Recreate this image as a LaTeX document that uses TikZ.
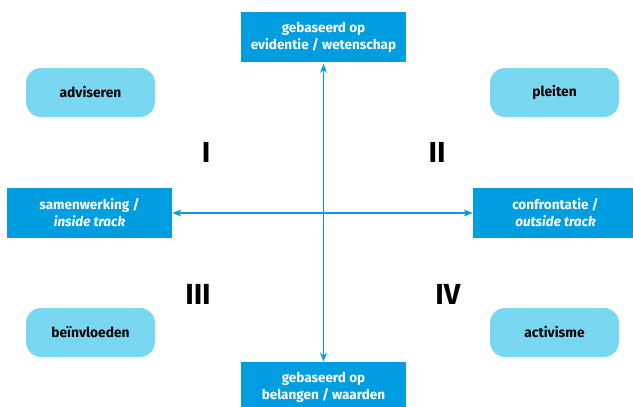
\documentclass[tikz,border=0pt]{standalone}
\usepackage{fontspec}
\setmainfont{Fira Sans}
\usetikzlibrary{arrows.meta}

\definecolor{boxblue}{RGB}{0,158,224}
\definecolor{pillblue}{RGB}{122,215,242}

\begin{document}
\begin{tikzpicture}[x=1pt, y=-1pt, thick,
    main/.style = {fill=boxblue, text=white, minimum width=165pt, minimum height=50pt, inner sep=0pt, align=center, font=\fontsize{13.5}{17}\selectfont\bfseries},
    pill/.style = {fill=pillblue, rounded corners=15pt, minimum width=129pt, minimum height=49pt, inner sep=0pt, font=\fontsize{13.8}{15}\selectfont\bfseries},
    quad/.style = {font=\fontsize{29}{30}\selectfont\bfseries},
    axis/.style = {draw=boxblue, line width=1.4pt, {Stealth[length=9pt,width=7pt]}-{Stealth[length=9pt,width=7pt]}}]
    \useasboundingbox (0,0) rectangle (633,407);

    \node[main] at (323.5, 37) (top){gebaseerd op\\evidentie / wetenschap};
    \node[main] at (323.5, 387) (bottom){gebaseerd op\\belangen / waarden};
    \node[main] at (89.5, 213) (left){samenwerking /\\\itshape inside track};
    \node[main] at (555.5, 213) (right){confrontatie /\\\itshape outside track};

    \node[pill] at (90.5, 92.5) (adv){adviseren};
    \node[pill] at (554.5, 92.5) (pleit){pleiten};
    \node[pill] at (90.5, 332.5) (beinv){beïnvloeden};
    \node[pill] at (554.5, 332.5) (act){activisme};

    \node[quad] at (206, 152) (q1){I};
    \node[quad] at (437, 152) (q2){II};
    \node[quad] at (198, 294) (q3){III};
    \node[quad] at (448, 294) (q4){IV};

    \path[axis]
    (top) edge[shorten <=1.5pt] (bottom)
    (left) edge (right)
    ;
  \end{tikzpicture}
\end{document}
